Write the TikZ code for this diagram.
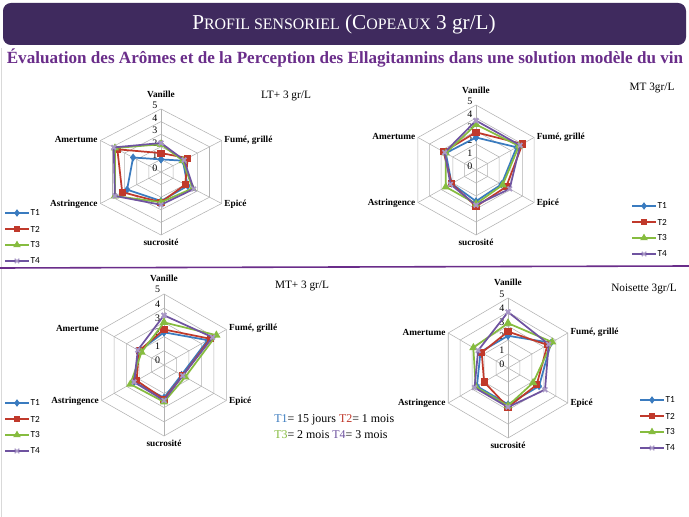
\documentclass[tikz,border=0pt]{standalone}
\usepackage{fontspec}
\setmainfont{Liberation Serif}
\setsansfont{Carlito}
\usetikzlibrary{plotmarks,calc}
\definecolor{hdrpurple}{HTML}{3F2A5E}
\definecolor{subpurple}{HTML}{6A2D8A}
\definecolor{tone}{HTML}{3A7BBF}
\definecolor{ttwo}{HTML}{C0392B}
\definecolor{tthree}{HTML}{86BC3F}
\definecolor{tfour}{HTML}{6F53A0}
\tikzset{
  gridline/.style={draw=black!30, line width=0.4pt},
  axislbl/.style={font=\fontsize{7}{8}\selectfont\bfseries, inner sep=1pt},
  ticklbl/.style={font=\fontsize{7.5}{8}\selectfont, inner sep=0.5pt},
  legendlbl/.style={font=\sffamily\fontsize{7}{8}\selectfont, right, inner sep=1pt},
  chartttl/.style={font=\fontsize{8.5}{10}\selectfont},
  sone/.style={draw=tone, line width=1.3pt, mark=diamond*, mark size=2pt, mark options={fill=tone, draw=tone}},
  stwo/.style={draw=ttwo, line width=1.3pt, mark=square*, mark size=2pt, mark options={fill=ttwo, draw=ttwo}},
  sthree/.style={draw=tthree, line width=1.3pt, mark=triangle*, mark size=2.3pt, mark options={fill=tthree, draw=tthree}},
  sfour/.style={draw=tfour, line width=1.3pt, mark=x, mark size=2.4pt, mark options={draw=tfour!60}},
}
% grille radar : six axes, niveaux 0 a 5
\newcommand{\radargrid}[1]{%
  \foreach \r in {1,...,5}
    \draw[gridline] (90:\r) -- (30:\r) -- (-30:\r) -- (-90:\r) -- (-150:\r) -- (150:\r) -- cycle;
  \foreach \a in {90,30,-30,-90,-150,150}
    \draw[gridline] (0,0) -- (\a:5);
  \foreach \r in {0,...,5}
    \node[ticklbl, left] (#1t\r) at ($(90:\r)+(-0.2,0.3)$) {\r};
  \node[axislbl, above] (#1va) at (90:5.75) {Vanille};
  \node[axislbl, right] (#1fu) at (30:5.1) {Fumé, grillé};
  \node[axislbl, right] (#1ep) at (-30:5.1) {Epicé};
  \node[axislbl, below] (#1su) at (-90:5.2) {sucrosité};
  \node[axislbl, left] (#1as) at (-150:5.1) {Astringence};
  \node[axislbl, left] (#1am) at (150:5.1) {Amertume};
}
\newcommand{\serie}[7]{%
  \draw[#1] plot coordinates {(90:#2) (30:#3) (-30:#4) (-90:#5) (-150:#6) (150:#7) (90:#2)};
}
% legende T1..T4
\newcommand{\legende}[3]{%
  \foreach \s/\t [count=\i from 0] in {sone/T1,stwo/T2,sthree/T3,sfour/T4}{
    \draw[\s, line width=1pt, mark indices={2}] plot coordinates {($(#2,#3)+(0,16*\i)$) ($(#2,#3)+(12,16*\i)$) ($(#2,#3)+(24,16*\i)$)};
    \node[legendlbl] (#1l\i) at ($(#2,#3)+(24,16*\i)$) {\t};
  }
}
\begin{document}
\begin{tikzpicture}[x=0.0265cm, y=-0.0265cm]
  \useasboundingbox (0,0) rectangle (689,517);
  \fill[white] (0,0) rectangle (689,517);
  \draw[black!15] (1,48) -- (1,517);
  % en-tete
  \fill[hdrpurple, rounded corners=6pt] (3,3) rectangle (686,45);
  \node[text=white, font=\fontsize{16}{18}\selectfont] (titre) at (344,24)
    {P{\fontsize{12}{14}\selectfont ROFIL SENSORIEL} (C{\fontsize{12}{14}\selectfont OPEAUX} 3 gr/L)};
  \node[text=subpurple, font=\fontsize{12.9}{14}\selectfont\bfseries] (soustitre) at (345,58)
    {Évaluation des Arômes et de la Perception des Ellagitannins dans une solution modèle du vin};
  \draw[subpurple, line width=1.2pt] (0,268) -- (689,266);

  % LT+ 3 gr/L
  \node[chartttl] (ttlA) at (286,96) {LT+ 3 gr/L};
  \begin{scope}[shift={(161,172)}, x={(14*0.0265cm,0)}, y={(0,12.6*0.0265cm)}]
    \radargrid{A}
    \serie{sone}{1}{1.8}{2.2}{2.3}{2.8}{2.3}
    \serie{stwo}{1.5}{2.2}{2.0}{2.4}{3.2}{3.6}
    \serie{sthree}{2.2}{1.8}{2.6}{2.4}{3.8}{3.8}
    \serie{sfour}{2.3}{1.9}{2.7}{2.6}{3.8}{3.9}
  \end{scope}
  \legende{A}{5}{213}

  % MT 3gr/L
  \node[chartttl] (ttlB) at (652,88) {MT 3gr/L};
  \begin{scope}[shift={(476,170)}, x={(13.4*0.0265cm,0)}, y={(0,13*0.0265cm)}]
    \radargrid{B}
    \serie{sone}{2.5}{3.5}{2.2}{2.4}{2.1}{2.6}
    \serie{stwo}{2.9}{4.0}{2.6}{2.8}{2.1}{2.8}
    \serie{sthree}{3.5}{3.7}{2.3}{2.6}{2.6}{2.6}
    \serie{sfour}{3.8}{3.8}{2.9}{2.7}{2.2}{2.7}
  \end{scope}
  \legende{B}{632}{206}

  % MT+ 3 gr/L
  \node[chartttl] (ttlC) at (302,286) {MT+ 3 gr/L};
  \begin{scope}[shift={(164,365)}, x={(14.4*0.0265cm,0)}, y={(0,14.2*0.0265cm)}]
    \radargrid{C}
    \serie{sone}{2.3}{3.5}{1.4}{2.3}{2.4}{2.0}
    \serie{stwo}{2.5}{3.7}{1.5}{2.4}{2.2}{2.0}
    \serie{sthree}{3.0}{4.2}{1.7}{2.6}{2.7}{1.8}
    \serie{sfour}{3.5}{3.9}{1.5}{2.5}{2.4}{2.1}
  \end{scope}
  \legende{C}{5}{403}

  % Noisette 3gr/L
  \node[chartttl] (ttlD) at (644,289) {Noisette 3gr/L};
  \begin{scope}[shift={(508,368)}, x={(13.8*0.0265cm,0)}, y={(0,14*0.0265cm)}]
    \radargrid{D}
    \serie{sone}{2.3}{3.6}{2.6}{2.6}{2.6}{2.3}
    \serie{stwo}{2.6}{3.3}{2.4}{2.8}{2.0}{2.2}
    \serie{sthree}{3.2}{3.7}{2.1}{2.7}{2.7}{2.9}
    \serie{sfour}{4.0}{3.4}{3.1}{2.8}{2.8}{2.5}
  \end{scope}
  \legende{D}{640}{400}

  % duree des essais
  \node[font=\fontsize{9}{10}\selectfont, right, inner sep=0pt] (dureeA) at (274,420)
    {\textcolor{tone}{T1}= 15 jours \textcolor{ttwo}{T2}= 1 mois};
  \node[font=\fontsize{9}{10}\selectfont, right, inner sep=0pt] (dureeB) at (274,435)
    {\textcolor{tthree}{T3}= 2 mois \textcolor{tfour}{T4}= 3 mois};
\end{tikzpicture}
\end{document}
